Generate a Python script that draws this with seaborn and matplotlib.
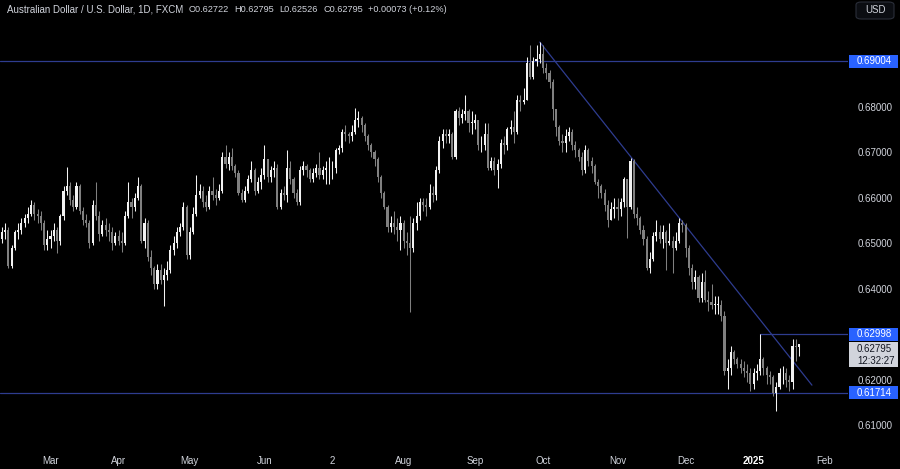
import numpy as np
import pandas as pd
import matplotlib
matplotlib.use("Agg")
import matplotlib.pyplot as plt
import matplotlib.transforms as mtransforms
from matplotlib.patches import Rectangle, FancyBboxPatch
import seaborn as sns

sns.set_theme(style="dark")
plt.rcParams['font.family'] = ['Liberation Sans', 'DejaVu Sans']

# daily AUD/USD (FXCM), 8 Feb 2024 -> 22 Jan 2025, no bars on 25 Dec / 1 Jan
dates = pd.bdate_range("2024-02-08", "2025-01-22").drop(pd.to_datetime(["2024-12-25", "2025-01-01"]))

first_open = 0.6495
closes = [
    # Feb
    0.6510, 0.6525, 0.6530, 0.6450, 0.6490, 0.6525, 0.6530, 0.6545, 0.6555, 0.6565, 0.6585, 0.6565, 0.6560, 0.6545, 0.6495, 0.6510,
    # Mar
    0.6515, 0.6530, 0.6505, 0.6560, 0.6615, 0.6625, 0.6595, 0.6580, 0.6625, 0.6570, 0.6550, 0.6545, 0.6500, 0.6585, 0.6560, 0.6520,
    0.6540, 0.6530, 0.6525, 0.6500, 0.6515,
    # Apr
    0.6505, 0.6500, 0.6560, 0.6590, 0.6580, 0.6600, 0.6625, 0.6505, 0.6545, 0.6470, 0.6445, 0.6410, 0.6440, 0.6420, 0.6430, 0.6440,
    0.6485, 0.6500, 0.6525, 0.6535, 0.6580, 0.6475,
    # May
    0.6525, 0.6565, 0.6605, 0.6615, 0.6590, 0.6580, 0.6615, 0.6605, 0.6600, 0.6615, 0.6690, 0.6675, 0.6690, 0.6670, 0.6655, 0.6610,
    0.6595, 0.6615, 0.6640, 0.6660, 0.6615, 0.6635, 0.6650,
    # Jun
    0.6685, 0.6645, 0.6660, 0.6665, 0.6580, 0.6610, 0.6605, 0.6665, 0.6640, 0.6610, 0.6590, 0.6660, 0.6670, 0.6660, 0.6640, 0.6655,
    0.6665, 0.6650, 0.6660, 0.6665,
    # Jul
    0.6665, 0.6665, 0.6705, 0.6710, 0.6745, 0.6740, 0.6735, 0.6745, 0.6770, 0.6775, 0.6760, 0.6735, 0.6715, 0.6700, 0.6685, 0.6645,
    0.6610, 0.6580, 0.6535, 0.6545, 0.6535, 0.6530, 0.6545,
    # Aug
    0.6505, 0.6500, 0.6490, 0.6545, 0.6560, 0.6590, 0.6585, 0.6580, 0.6610, 0.6605, 0.6660, 0.6725, 0.6740, 0.6735, 0.6740, 0.6690,
    0.6790, 0.6775, 0.6785, 0.6790, 0.6765, 0.6765,
    # Sep
    0.6770, 0.6715, 0.6715, 0.6740, 0.6665, 0.6680, 0.6660, 0.6675, 0.6720, 0.6715, 0.6750, 0.6755, 0.6745, 0.6815, 0.6810, 0.6815,
    0.6895, 0.6865, 0.6900, 0.6905, 0.6915,
    # Oct
    0.6885, 0.6875, 0.6855, 0.6795, 0.6755, 0.6725, 0.6720, 0.6735, 0.6745, 0.6715, 0.6705, 0.6690, 0.6660, 0.6705, 0.6680, 0.6670,
    0.6635, 0.6625, 0.6610, 0.6585, 0.6550, 0.6575, 0.6580,
    # Nov
    0.6575, 0.6590, 0.6640, 0.6580, 0.6680, 0.6565, 0.6555, 0.6530, 0.6510, 0.6445, 0.6465, 0.6515, 0.6525, 0.6510, 0.6525, 0.6500,
    0.6505, 0.6490, 0.6505, 0.6545, 0.6540,
    # Dec
    0.6490, 0.6445, 0.6415, 0.6425, 0.6380, 0.6415, 0.6375, 0.6370, 0.6365, 0.6365, 0.6365, 0.6340, 0.6220, 0.6225, 0.6260, 0.6245,
    0.6235, 0.6225, 0.6220, 0.6215, 0.6190,
    # Jan
    0.6215, 0.6220, 0.6245, 0.6225, 0.6210, 0.6205, 0.6170, 0.6185, 0.6215, 0.6215, 0.6200, 0.6195, 0.6275, 0.62722, 0.62795,
]
highs = [
    0.6525, 0.6535, 0.6545, 0.6535, 0.6495, 0.6530, 0.6545, 0.6555, 0.6565, 0.6580, 0.6595, 0.6590, 0.6575, 0.6570, 0.6550, 0.6530,
    0.6530, 0.6545, 0.6535, 0.6565, 0.6625, 0.6668, 0.6635, 0.6605, 0.6635, 0.6630, 0.6580, 0.6565, 0.6550, 0.6595, 0.6634, 0.6570,
    0.6550, 0.6555, 0.6545, 0.6535, 0.6525,
    0.6530, 0.6525, 0.6570, 0.6635, 0.6600, 0.6610, 0.6645, 0.6630, 0.6555, 0.6550, 0.6485, 0.6450, 0.6455, 0.6455, 0.6445, 0.6460,
    0.6495, 0.6515, 0.6535, 0.6545, 0.6590, 0.6585,
    0.6535, 0.6580, 0.6650, 0.6630, 0.6625, 0.6605, 0.6625, 0.6645, 0.6620, 0.6630, 0.6700, 0.6715, 0.6700, 0.6710, 0.6675, 0.6660,
    0.6620, 0.6625, 0.6650, 0.6680, 0.6665, 0.6645, 0.6665,
    0.6715, 0.6685, 0.6670, 0.6680, 0.6675, 0.6620, 0.6625, 0.6705, 0.6680, 0.6645, 0.6620, 0.6670, 0.6680, 0.6675, 0.6665, 0.6665,
    0.6675, 0.6700, 0.6670, 0.6680,
    0.6690, 0.6680, 0.6710, 0.6715, 0.6750, 0.6760, 0.6745, 0.6760, 0.6798, 0.6790, 0.6780, 0.6765, 0.6740, 0.6720, 0.6705, 0.6690,
    0.6650, 0.6615, 0.6585, 0.6560, 0.6570, 0.6555, 0.6560,
    0.6550, 0.6525, 0.6560, 0.6555, 0.6590, 0.6600, 0.6600, 0.6600, 0.6630, 0.6625, 0.6670, 0.6735, 0.6750, 0.6750, 0.6750, 0.6745,
    0.6795, 0.6800, 0.6795, 0.6825, 0.6795, 0.6790,
    0.6785, 0.6770, 0.6735, 0.6765, 0.6765, 0.6690, 0.6690, 0.6685, 0.6730, 0.6735, 0.6755, 0.6770, 0.6790, 0.6825, 0.6825, 0.6840,
    0.6910, 0.6935, 0.6910, 0.6935, 0.6942,
    0.6935, 0.6895, 0.6880, 0.6860, 0.6795, 0.6760, 0.6740, 0.6750, 0.6755, 0.6750, 0.6725, 0.6710, 0.6700, 0.6715, 0.6710, 0.6690,
    0.6675, 0.6640, 0.6630, 0.6620, 0.6595, 0.6590, 0.6600,
    0.6600, 0.6600, 0.6645, 0.6625, 0.6688, 0.6685, 0.6580, 0.6560, 0.6540, 0.6515, 0.6480, 0.6525, 0.6550, 0.6540, 0.6540, 0.6530,
    0.6545, 0.6515, 0.6525, 0.6555, 0.6550,
    0.6545, 0.6495, 0.6455, 0.6440, 0.6430, 0.6435, 0.6440, 0.6395, 0.6410, 0.6385, 0.6385, 0.6375, 0.6350, 0.6245, 0.6275, 0.6265,
    0.6250, 0.6245, 0.6240, 0.6235, 0.6225,
    0.6225, 0.6235, 0.62998, 0.6250, 0.6230, 0.6220, 0.6210, 0.6195, 0.6225, 0.6230, 0.6225, 0.6210, 0.6290, 0.6290, 0.62795,
]
lows = [
    0.6485, 0.6500, 0.6510, 0.6445, 0.6445, 0.6485, 0.6510, 0.6520, 0.6535, 0.6545, 0.6560, 0.6550, 0.6545, 0.6530, 0.6485, 0.6485,
    0.6490, 0.6505, 0.6478, 0.6495, 0.6550, 0.6605, 0.6585, 0.6570, 0.6575, 0.6565, 0.6540, 0.6535, 0.6490, 0.6495, 0.6550, 0.6505,
    0.6515, 0.6515, 0.6505, 0.6485, 0.6495,
    0.6495, 0.6480, 0.6495, 0.6555, 0.6555, 0.6570, 0.6595, 0.6500, 0.6490, 0.6460, 0.6430, 0.6400, 0.6400, 0.6410, 0.6363, 0.6420,
    0.6435, 0.6475, 0.6490, 0.6515, 0.6530, 0.6465,
    0.6465, 0.6520, 0.6560, 0.6600, 0.6580, 0.6570, 0.6575, 0.6595, 0.6585, 0.6595, 0.6610, 0.6665, 0.6660, 0.6660, 0.6645, 0.6605,
    0.6590, 0.6590, 0.6610, 0.6635, 0.6605, 0.6610, 0.6620,
    0.6640, 0.6635, 0.6635, 0.6645, 0.6575, 0.6575, 0.6595, 0.6590, 0.6630, 0.6600, 0.6585, 0.6585, 0.6650, 0.6645, 0.6635, 0.6635,
    0.6645, 0.6640, 0.6640, 0.6630,
    0.6630, 0.6640, 0.6655, 0.6695, 0.6700, 0.6725, 0.6720, 0.6725, 0.6740, 0.6755, 0.6745, 0.6725, 0.6705, 0.6690, 0.6670, 0.6635,
    0.6600, 0.6575, 0.6525, 0.6525, 0.6520, 0.6505, 0.6485,
    0.6490, 0.6475, 0.6348, 0.6480, 0.6530, 0.6550, 0.6570, 0.6560, 0.6575, 0.6590, 0.6595, 0.6655, 0.6710, 0.6720, 0.6720, 0.6685,
    0.6685, 0.6760, 0.6765, 0.6770, 0.6745, 0.6740,
    0.6750, 0.6705, 0.6700, 0.6705, 0.6660, 0.6660, 0.6650, 0.6622, 0.6665, 0.6695, 0.6705, 0.6740, 0.6720, 0.6740, 0.6790, 0.6805,
    0.6815, 0.6860, 0.6860, 0.6890, 0.6895,
    0.6875, 0.6860, 0.6840, 0.6770, 0.6735, 0.6715, 0.6700, 0.6700, 0.6725, 0.6705, 0.6690, 0.6680, 0.6650, 0.6655, 0.6670, 0.6655,
    0.6630, 0.6600, 0.6600, 0.6570, 0.6535, 0.6550, 0.6555,
    0.6550, 0.6560, 0.6580, 0.6512, 0.6575, 0.6555, 0.6540, 0.6520, 0.6495, 0.6440, 0.6435, 0.6460, 0.6505, 0.6500, 0.6490, 0.6440,
    0.6495, 0.6435, 0.6485, 0.6500, 0.6525,
    0.6470, 0.6430, 0.6400, 0.6400, 0.6370, 0.6370, 0.6370, 0.6350, 0.6355, 0.6345, 0.6345, 0.6330, 0.6210, 0.6180, 0.6210, 0.6235,
    0.6225, 0.6215, 0.6205, 0.6195, 0.6175,
    0.6180, 0.6200, 0.6210, 0.6210, 0.6190, 0.6190, 0.6165, 0.6131, 0.6180, 0.6190, 0.6185, 0.6175, 0.6180, 0.6240, 0.62526,
]

# drawn levels / trend line
levels = [0.69004, 0.61714]
resistance = ("2025-01-06", 0.62998)
trend_dates = ["2024-09-30", "2025-01-28"]
trend_prices = [0.6942, 0.6188]
last_price = 0.62795

month_dates = ["2024-03-01", "2024-04-01", "2024-05-01", "2024-06-03", "2024-07-02", "2024-08-01",
               "2024-09-02", "2024-10-01", "2024-11-01", "2024-12-02", "2025-01-02", "2025-02-03"]
month_labels = ["Mar", "Apr", "May", "Jun", "2", "Aug", "Sep", "Oct", "Nov", "Dec", "2025", "Feb"]
y_ticks = [0.61, 0.62, 0.64, 0.65, 0.66, 0.67, 0.68]


def bar_pos(d):
    d = pd.Timestamp(d)
    if d <= dates[-1]:
        return int(np.searchsorted(dates, d))
    return len(dates) - 1 + int(np.busday_count(dates[-1].date(), d.date()))


c = np.array(closes)
o = np.r_[first_open, c[:-1]]
h = np.maximum(np.array(highs), np.maximum(o, c))
l = np.minimum(np.array(lows), np.minimum(o, c))
x = np.arange(len(dates))
up = c >= o
col = np.where(up, "#f2f2f2", "#808080")

bg = "#000000"
txt = "#d1d4dc"
navy = "#2e3c8f"
blue = "#2962ff"

fig = plt.figure(figsize=(9, 4.69), dpi=100, facecolor=bg)
ax = fig.add_axes([0, 20 / 469, 848 / 900, 449 / 469])
ax.set_facecolor(bg)
for s in ax.spines.values():
    s.set_visible(False)
ax.grid(False)

px_per_bar = 3.24
ax.set_xlim(0.4, 0.4 + 848 / px_per_bar)
px_per_price = 45.5 / 0.01
ax.set_ylim(0.69004 - (449 - 61) / px_per_price, 0.69004 + 61 / px_per_price)

# candles
ax.vlines(x, l, h, colors=col, linewidth=0.75, zorder=3)
body = np.maximum(np.abs(c - o), 0.00005)
ax.bar(x, body, bottom=np.minimum(o, c), width=0.66, color=col, linewidth=0, zorder=4)

# drawings
for lv in levels:
    ax.axhline(lv, color=navy, linewidth=0.9, zorder=2)
rx = bar_pos(resistance[0])
ax.plot([rx, ax.get_xlim()[1]], [resistance[1]] * 2, color=navy, linewidth=0.9, zorder=2)
ax.plot([bar_pos(d) for d in trend_dates], trend_prices, color=navy, linewidth=0.9, zorder=2)

# axes labels
ax.yaxis.tick_right()
ax.set_yticks(y_ticks)
ax.set_yticklabels([f"{v:.5f}" for v in y_ticks])
ax.tick_params(axis="y", length=0, pad=7, labelsize=7, labelcolor=txt)
ax.set_xticks([bar_pos(d) for d in month_dates])
ax.set_xticklabels(month_labels)
ax.tick_params(axis="x", length=0, pad=5, labelsize=7, labelcolor=txt)
for t in ax.get_xticklabels():
    if t.get_text() == "2025":
        t.set_fontweight("bold")
        t.set_color("#ffffff")

# price scale tags
tr = mtransforms.blended_transform_factory(ax.transAxes, ax.transData)
box_h = 13 / px_per_price
for val in [0.69004, resistance[1], 0.61714]:
    ax.add_patch(Rectangle((849 / 848, val - box_h / 2), 49 / 848, box_h, transform=tr,
                           facecolor=blue, edgecolor="none", clip_on=False, zorder=5))
    ax.text(857 / 848, val, f"{val:.5f}", transform=tr, color="white", fontsize=7,
            va="center", ha="left", clip_on=False, zorder=6)
cur_h = 25 / px_per_price
cur_top = resistance[1] - box_h / 2 - 1 / px_per_price
ax.add_patch(Rectangle((849 / 848, cur_top - cur_h), 49 / 848, cur_h, transform=tr,
                       facecolor="#d1d4dc", edgecolor="none", clip_on=False, zorder=5))
ax.text(857 / 848, cur_top - cur_h * 0.3, f"{last_price:.5f}", transform=tr, color="#131722",
        fontsize=7, va="center", ha="left", clip_on=False, zorder=6)
ax.text(857 / 848, cur_top - cur_h * 0.75, "12:32:27", transform=tr, color="#131722",
        fontsize=7, va="center", ha="left", clip_on=False, zorder=6)

# USD button
fig.patches.append(FancyBboxPatch((856 / 900, 1 - 19 / 469), 38 / 900, 17 / 469,
                                  boxstyle="round,pad=0,rounding_size=0.006",
                                  transform=fig.transFigure, facecolor="#0b0d12",
                                  edgecolor="#2a2e39", linewidth=0.8))
fig.text(875 / 900, 1 - 10 / 469, "USD", color=txt, fontsize=7, ha="center", va="center")

# header legend
fig.text(7 / 900, 1 - 9 / 469, "Australian Dollar / U.S. Dollar, 1D, FXCM", color=txt,
         fontsize=7, ha="left", va="center")
header_vals = [(189, "O0.62722"), (234, "H0.62795"), (279, "L0.62526"), (323, "C0.62795"),
               (368, "+0.00073 (+0.12%)")]
for px, s in header_vals:
    fig.text(px / 900, 1 - 9 / 469, s, color=txt, fontsize=6.6, ha="left", va="center")

fig.savefig("out.png", dpi=100, facecolor=bg)
